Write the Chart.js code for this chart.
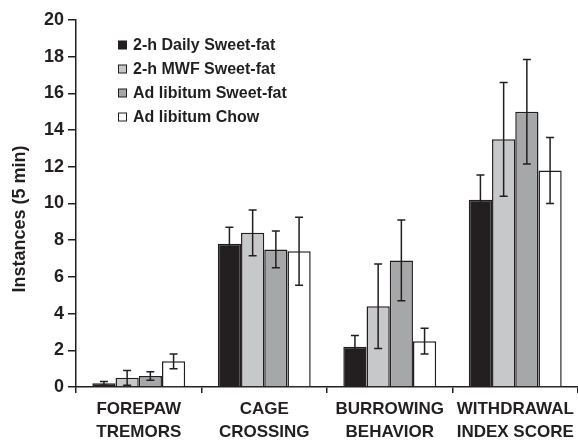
<!DOCTYPE html>
<html>
<head>
<meta charset="utf-8">
<script src="https://cdn.jsdelivr.net/npm/chart.js@4.4.0/dist/chart.umd.min.js"></script>
<style>
  html, body { margin: 0; padding: 0; background: #ffffff; }
  #wrap { width: 578px; height: 441px; position: relative; }
</style>
</head>
<body>
<div id="wrap"><canvas id="c" width="578" height="441"></canvas></div>
<script>
const categories = [["FOREPAW", "TREMORS"], ["CAGE", "CROSSING"], ["BURROWING", "BEHAVIOR"], ["WITHDRAWAL", "INDEX SCORE"]];
const seriesNames = ["2-h Daily Sweet-fat", "2-h MWF Sweet-fat", "Ad libitum Sweet-fat", "Ad libitum Chow"];
const dailySweetFat = [0.2, 7.8, 2.2, 10.2];
const mwfSweetFat = [0.5, 8.4, 4.4, 13.5];
const adlibSweetFat = [0.6, 7.5, 6.9, 15.0];
const adlibChow = [1.4, 7.4, 2.5, 11.8];
const dailySweetFatErr = [0.1, 0.9, 0.6, 1.35];
const mwfSweetFatErr = [0.4, 1.25, 2.3, 3.1];
const adlibSweetFatErr = [0.23, 1.0, 2.2, 2.85];
const adlibChowErr = [0.4, 1.85, 0.7, 1.8];
const yTicks = [0, 2, 4, 6, 8, 10, 12, 14, 16, 18, 20];
const yTitle = "Instances (5 min)";

const INK = "#231f20";
const colors = ["#231f20", "#c7c8ca", "#a6a7a9", "#ffffff"];
const values = [dailySweetFat, mwfSweetFat, adlibSweetFat, adlibChow];
const errors = [dailySweetFatErr, mwfSweetFatErr, adlibSweetFatErr, adlibChowErr];

const datasets = seriesNames.map((name, i) => ({
  label: name,
  data: values[i],
  errors: errors[i],
  backgroundColor: colors[i],
  borderColor: INK,
  borderWidth: 1.5,
  borderSkipped: 'bottom',
  categoryPercentage: 0.74,
  barPercentage: 1.0
}));

const errorBars = {
  id: 'errorBars',
  afterDatasetsDraw(chart) {
    const ctx = chart.ctx;
    const y = chart.scales.y;
    ctx.save();
    ctx.strokeStyle = INK;
    ctx.lineWidth = 1.5;
    chart.data.datasets.forEach((ds, di) => {
      const meta = chart.getDatasetMeta(di);
      meta.data.forEach((bar, j) => {
        const v = ds.data[j], e = ds.errors[j];
        const yt = y.getPixelForValue(v + e);
        const yb = y.getPixelForValue(Math.max(0, v - e));
        const x = bar.x, cap = 4;
        ctx.beginPath();
        ctx.moveTo(x, yt); ctx.lineTo(x, yb);
        ctx.moveTo(x - cap, yt); ctx.lineTo(x + cap, yt);
        ctx.moveTo(x - cap, yb); ctx.lineTo(x + cap, yb);
        ctx.stroke();
      });
    });
    ctx.restore();
  }
};

const customLegend = {
  id: 'customLegend',
  afterDraw(chart) {
    const ctx = chart.ctx;
    ctx.save();
    ctx.font = "bold 16px 'Liberation Sans', Arial, sans-serif";
    ctx.textBaseline = 'middle';
    ctx.textAlign = 'left';
    chart.data.datasets.forEach((ds, i) => {
      const cy = 45 + i * 24;
      ctx.fillStyle = ds.backgroundColor;
      ctx.fillRect(118.5, cy - 4, 8, 8);
      ctx.strokeStyle = INK;
      ctx.lineWidth = 1;
      ctx.strokeRect(118.5, cy - 4, 8, 8);
      ctx.fillStyle = INK;
      ctx.fillText(ds.label, 133, cy + 1);
    });
    ctx.restore();
  }
};

const yTitlePlugin = {
  id: 'yTitlePlugin',
  afterDraw(chart) {
    const ctx = chart.ctx;
    ctx.save();
    ctx.font = "bold 18px 'Liberation Sans', Arial, sans-serif";
    ctx.fillStyle = INK;
    ctx.textAlign = 'center';
    ctx.textBaseline = 'middle';
    ctx.translate(20, 219);
    ctx.rotate(-Math.PI / 2);
    ctx.fillText(yTitle, 0, 0);
    ctx.restore();
  }
};

new Chart(document.getElementById('c'), {
  type: 'bar',
  data: { labels: categories, datasets },
  plugins: [errorBars, customLegend, yTitlePlugin],
  options: {
    responsive: false,
    animation: false,
    layout: { padding: { top: 20, right: 0, left: 0, bottom: 0 } },
    plugins: { legend: { display: false }, tooltip: { enabled: false } },
    scales: {
      x: {
        offset: true,
        afterFit(scale) { scale.height = 54; scale.paddingLeft = 0; scale.paddingRight = 0; },
        border: { display: true, color: INK, width: 1.5 },
        grid: { display: true, offset: true, drawOnChartArea: false, drawTicks: true, tickLength: 6, color: INK, lineWidth: 1.5 },
        ticks: {
          color: INK,
          padding: 5,
          maxRotation: 0,
          autoSkip: false,
          font: { family: "'Liberation Sans', Arial, sans-serif", size: 17, weight: 'bold', lineHeight: 1.35 }
        }
      },
      y: {
        min: 0,
        max: 20,
        afterFit(scale) { scale.width = 76; },
        afterBuildTicks(scale) { scale.ticks = yTicks.map(v => ({ value: v })); },
        border: { display: true, color: INK, width: 1.5 },
        grid: { display: true, drawOnChartArea: false, drawTicks: true, tickLength: 8, color: INK, lineWidth: 1.5 },
        ticks: {
          color: INK,
          padding: 4,
          font: { family: "'Liberation Sans', Arial, sans-serif", size: 18, weight: 'bold' }
        }
      }
    }
  }
});
</script>
</body>
</html>
